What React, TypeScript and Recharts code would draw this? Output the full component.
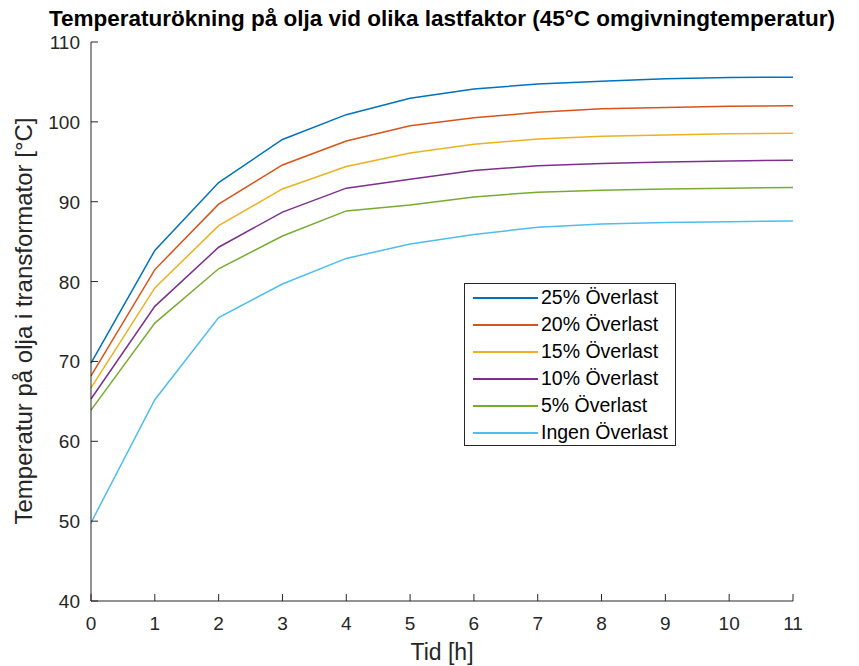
import React from 'react';
import { LineChart, Line, XAxis, YAxis } from 'recharts';

const hours = [0, 1, 2, 3, 4, 5, 6, 7, 8, 9, 10, 11];
const load25 = [69.8, 83.9, 92.4, 97.8, 100.9, 102.95, 104.1, 104.75, 105.1, 105.4, 105.55, 105.6];
const load20 = [68.2, 81.5, 89.7, 94.6, 97.6, 99.5, 100.5, 101.2, 101.65, 101.8, 101.95, 102.03];
const load15 = [66.7, 79.2, 87.0, 91.6, 94.4, 96.1, 97.2, 97.85, 98.2, 98.36, 98.5, 98.57];
const load10 = [65.3, 76.9, 84.3, 88.7, 91.7, 92.8, 93.9, 94.5, 94.77, 94.98, 95.1, 95.2];
const load5 = [63.9, 74.8, 81.6, 85.7, 88.85, 89.6, 90.6, 91.2, 91.44, 91.6, 91.7, 91.77];
const load0 = [49.8, 65.2, 75.5, 79.7, 82.9, 84.7, 85.9, 86.8, 87.2, 87.4, 87.5, 87.6];

const seriesNames = ['25% Överlast', '20% Överlast', '15% Överlast', '10% Överlast', '5% Överlast', 'Ingen Överlast'];
const seriesValues = [load25, load20, load15, load10, load5, load0];
const seriesColors = ['#0072BD', '#D95319', '#EDB120', '#7E2F8E', '#77AC30', '#4DBEEE'];
const seriesKeys = ['s25', 's20', 's15', 's10', 's5', 's0'];

const xTicks = [0, 1, 2, 3, 4, 5, 6, 7, 8, 9, 10, 11];
const yTicks = [40, 50, 60, 70, 80, 90, 100, 110];

const titleText = 'Temperaturökning på olja vid olika lastfaktor (45°C omgivningtemperatur)';
const xLabel = 'Tid [h]';
const yLabel = 'Temperatur på olja i transformator [°C]';

const data = hours.map((h, i) => {
  const row: any = { h };
  seriesKeys.forEach((k, j) => {
    row[k] = seriesValues[j][i];
  });
  return row;
});

const FONT = '"Liberation Sans", Arial, Helvetica, sans-serif';
const AXIS = '#262626';
const TICK_FS = 19;

const XTick = (props: any) => {
  const { x, y, payload } = props;
  return (
    <g>
      <line x1={x} x2={x} y1={y} y2={y - 7} stroke={AXIS} strokeWidth={1} />
      <text x={x} y={y + 29} textAnchor="middle" fill={AXIS} fontSize={TICK_FS} fontFamily={FONT}>
        {payload.value}
      </text>
    </g>
  );
};

const YTick = (props: any) => {
  const { x, y, payload } = props;
  return (
    <g>
      <line x1={x} x2={x + 7} y1={y} y2={y} stroke={AXIS} strokeWidth={1} />
      <text x={x - 11} y={y + 7} textAnchor="end" fill={AXIS} fontSize={TICK_FS} fontFamily={FONT}>
        {payload.value}
      </text>
    </g>
  );
};

const LegendBox = () => (
  <div
    style={{
      position: 'absolute',
      left: 464,
      top: 283,
      width: 210,
      height: 161,
      border: '1px solid #262626',
      background: '#fff',
      fontFamily: FONT,
      fontSize: 19.5,
      color: '#000',
    }}
  >
    {seriesNames.map((name, i) => (
      <div key={name} style={{ height: 27, display: 'flex', alignItems: 'center' }}>
        <div style={{ width: 8, flex: 'none' }} />
        <div style={{ width: 65, height: 2, flex: 'none', background: seriesColors[i] }} />
        <div style={{ width: 3, flex: 'none' }} />
        <span style={{ whiteSpace: 'nowrap', lineHeight: '27px' }}>{name}</span>
      </div>
    ))}
  </div>
);

export default function App() {
  return (
    <div style={{ position: 'absolute', left: 0, top: 0, width: 859, height: 666, background: '#fff' }}>
      <svg
        width={859}
        height={40}
        style={{ position: 'absolute', left: 0, top: 0, pointerEvents: 'none' }}
      >
        <text x={442} y={26} textAnchor="middle" fontSize={22.5} fontWeight="bold" fontFamily={FONT} fill="#000">
          {titleText}
        </text>
      </svg>
      <div style={{ position: 'absolute', left: 0, top: 0 }}>
        <LineChart width={859} height={666} data={data} margin={{ top: 42, right: 66, bottom: 5, left: 31 }}>
          <XAxis
            dataKey="h"
            type="number"
            domain={[0, 11]}
            ticks={xTicks}
            interval={0}
            height={60}
            tickSize={0}
            tickMargin={0}
            tickLine={false}
            tick={<XTick />}
            axisLine={{ stroke: AXIS, strokeWidth: 1 }}
            label={{
              content: () => (
                <text x={442} y={660} textAnchor="middle" fill={AXIS} fontSize={23} fontFamily={FONT}>
                  {xLabel}
                </text>
              ),
            }}
          />
          <YAxis
            type="number"
            domain={[40, 110]}
            ticks={yTicks}
            interval={0}
            width={60}
            tickSize={0}
            tickMargin={0}
            tickLine={false}
            tick={<YTick />}
            axisLine={{ stroke: AXIS, strokeWidth: 1 }}
            label={{
              content: () => (
                <text
                  x={32}
                  y={321}
                  transform="rotate(-90 32 321)"
                  textAnchor="middle"
                  fill={AXIS}
                  fontSize={24}
                  fontFamily={FONT}
                >
                  {yLabel}
                </text>
              ),
            }}
          />
          {seriesKeys.map((k, i) => (
            <Line
              key={k}
              type="linear"
              dataKey={k}
              name={seriesNames[i]}
              stroke={seriesColors[i]}
              strokeWidth={1.5}
              dot={false}
              activeDot={false}
              isAnimationActive={false}
            />
          ))}
        </LineChart>
      </div>
      <LegendBox />
    </div>
  );
}
